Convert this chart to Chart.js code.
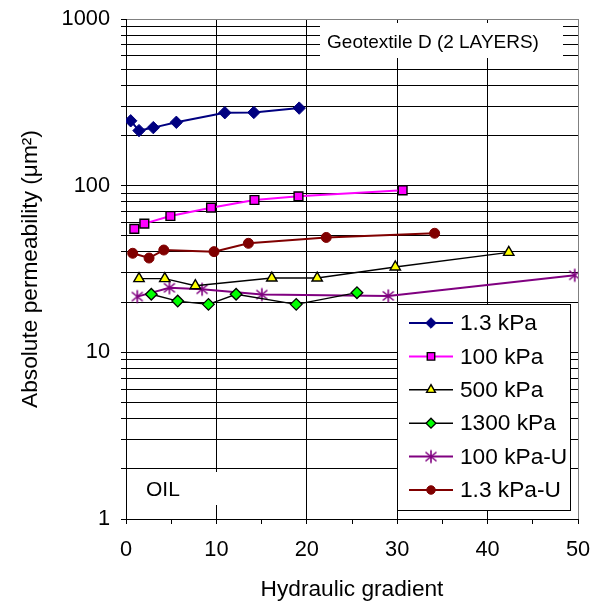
<!DOCTYPE html>
<html>
<head>
<meta charset="utf-8">
<script src="https://cdn.jsdelivr.net/npm/chart.js@4.4.0/dist/chart.umd.min.js"></script>
<style>
  html, body { margin: 0; padding: 0; background: #ffffff; }
  #wrap { width: 598px; height: 605px; }
</style>
</head>
<body>
<div id="wrap"><canvas id="chart" width="598" height="605"></canvas></div>
<script>
// Series names (legend order)
const seriesNames = ['1.3 kPa', '100 kPa', '500 kPa', '1300 kPa', '100 kPa-U', '1.3 kPa-U'];

// Hydraulic gradient (x) and absolute permeability in µm² (y) for each series
const gradient1_3 = [0.52, 1.44, 3.02, 5.57, 10.93, 14.14, 19.16];
const perm1_3     = [245, 214, 223, 240, 274, 275, 292];

const gradient100 = [0.92, 2.03, 4.91, 9.41, 14.21, 19.08, 30.6];
const perm100     = [55, 59.2, 65.8, 73.8, 82, 86.3, 93.8];

const gradient500 = [1.44, 4.29, 7.67, 16.13, 21.15, 29.79, 42.34];
const perm500     = [27.7, 27.7, 25.1, 27.9, 27.9, 32.5, 39.8];

const gradient1300 = [2.80, 5.72, 9.12, 12.18, 18.83, 25.55];
const perm1300     = [22.3, 20.3, 19.4, 22.3, 19.4, 22.8];

const gradient100U = [1.25, 4.80, 8.42, 15.03, 29.01, 49.64];
const perm100U     = [21.6, 24.4, 23.9, 22.2, 21.8, 29.0];

const gradient1_3U = [0.74, 2.55, 4.18, 9.74, 13.54, 22.15, 34.14];
const perm1_3U     = [39.3, 36.8, 41.1, 40.2, 45.1, 48.9, 51.8];

// Axis tick labels
const yTickLabels = [1, 10, 100, 1000];
const xTickLabels = [0, 10, 20, 30, 40, 50];

const FONT = '"Liberation Sans", Arial, Helvetica, sans-serif';

function toPoints(xs, ys) {
  return xs.map((x, i) => ({ x: x, y: ys[i] }));
}

// Asterisk marker: vertical stroke plus an X
function asteriskMarker(color) {
  const s = 16, c = document.createElement('canvas');
  c.width = s; c.height = s;
  const g = c.getContext('2d');
  const m = s / 2;
  g.strokeStyle = color;
  g.lineWidth = 1.6;
  g.beginPath();
  g.moveTo(m, m - 6.5); g.lineTo(m, m + 6.5);
  g.moveTo(m - 5.5, m - 4.5); g.lineTo(m + 5.5, m + 4.5);
  g.moveTo(m - 5.5, m + 4.5); g.lineTo(m + 5.5, m - 4.5);
  g.stroke();
  return c;
}

const datasets = [
  {
    label: seriesNames[0], data: toPoints(gradient1_3, perm1_3),
    borderColor: '#000080', borderWidth: 2,
    pointStyle: 'rectRot', pointRadius: 6.2,
    pointBackgroundColor: '#000080', pointBorderColor: '#000080', pointBorderWidth: 1
  },
  {
    label: seriesNames[1], data: toPoints(gradient100, perm100),
    borderColor: '#FF00FF', borderWidth: 2,
    pointStyle: 'rect', pointRadius: 6.2,
    pointBackgroundColor: '#FF00FF', pointBorderColor: '#000000', pointBorderWidth: 1.4
  },
  {
    label: seriesNames[2], data: toPoints(gradient500, perm500),
    borderColor: '#000000', borderWidth: 1.4,
    pointStyle: 'triangle', pointRadius: 6,
    pointBackgroundColor: '#FFFF00', pointBorderColor: '#000000', pointBorderWidth: 1.4
  },
  {
    label: seriesNames[3], data: toPoints(gradient1300, perm1300),
    borderColor: '#000000', borderWidth: 1.4,
    pointStyle: 'rectRot', pointRadius: 5.8,
    pointBackgroundColor: '#00FF00', pointBorderColor: '#000000', pointBorderWidth: 1.3
  },
  {
    label: seriesNames[4], data: toPoints(gradient100U, perm100U),
    borderColor: '#800080', borderWidth: 2,
    pointStyle: asteriskMarker('#800080'), pointRadius: 6,
    pointBackgroundColor: '#800080', pointBorderColor: '#800080', pointBorderWidth: 1.5
  },
  {
    label: seriesNames[5], data: toPoints(gradient1_3U, perm1_3U),
    borderColor: '#800000', borderWidth: 2,
    pointStyle: 'circle', pointRadius: 5,
    pointBackgroundColor: '#800000', pointBorderColor: '#800000', pointBorderWidth: 1
  }
];

// White text boxes inside the plot area
const plotNotes = {
  id: 'plotNotes',
  beforeDatasetsDraw(chart) {
    const ctx = chart.ctx;
    ctx.save();
    ctx.fillStyle = '#ffffff';
    ctx.fillRect(320, 23, 243, 35);
    ctx.fillRect(138, 472, 86, 33);
    ctx.fillStyle = '#000000';
    ctx.textBaseline = 'middle';
    ctx.textAlign = 'center';
    ctx.font = '19px ' + FONT;
    ctx.fillText('Geotextile D (2 LAYERS)', 433, 43);
    ctx.textAlign = 'left';
    ctx.font = '21px ' + FONT;
    ctx.fillText('OIL', 146, 490);
    ctx.restore();
  }
};

// Boxed legend drawn inside the plot area from the dataset styles
const boxedLegend = {
  id: 'boxedLegend',
  afterDraw(chart) {
    const ctx = chart.ctx;
    const bx = 397.5, by = 304.5, bw = 173, bh = 206;
    ctx.save();
    ctx.fillStyle = '#ffffff';
    ctx.fillRect(bx, by, bw, bh);
    ctx.strokeStyle = '#000000';
    ctx.lineWidth = 1;
    ctx.strokeRect(bx, by, bw, bh);
    ctx.font = '22.7px ' + FONT;
    ctx.textBaseline = 'middle';
    ctx.textAlign = 'left';
    chart.data.datasets.forEach((ds, i) => {
      const y = 323 + i * 33.4;
      ctx.strokeStyle = ds.borderColor;
      ctx.lineWidth = ds.borderWidth;
      ctx.beginPath();
      ctx.moveTo(409, y);
      ctx.lineTo(453, y);
      ctx.stroke();
      ctx.fillStyle = ds.pointBackgroundColor;
      ctx.strokeStyle = ds.pointBorderColor;
      ctx.lineWidth = ds.pointBorderWidth;
      Chart.helpers.drawPoint(ctx, {
        pointStyle: ds.pointStyle,
        radius: ds.pointRadius * 0.85,
        rotation: 0,
        borderWidth: ds.pointBorderWidth
      }, 431, y);
      ctx.fillStyle = '#000000';
      ctx.fillText(ds.label, 460, y + 1);
    });
    ctx.restore();
  }
};

new Chart(document.getElementById('chart'), {
  type: 'line',
  data: { datasets: datasets },
  plugins: [plotNotes, boxedLegend],
  options: {
    responsive: false,
    animation: false,
    devicePixelRatio: 1,
    layout: { padding: { top: 19, right: 20, bottom: 0, left: 0 } },
    plugins: {
      legend: { display: false },
      tooltip: { enabled: false }
    },
    elements: { line: { tension: 0, fill: false } },
    scales: {
      x: {
        type: 'linear',
        min: 0, max: 50,
        afterFit(s) {
          s.height = 86;
          s.paddingLeft = 0;
          s.paddingRight = 0;
        },
        ticks: {
          stepSize: 5,
          autoSkip: false,
          maxRotation: 0,
          padding: 13,
          color: '#000000',
          font: { family: FONT, size: 21.8 },
          callback: (v) => xTickLabels.includes(v) ? String(v) : ''
        },
        grid: {
          drawTicks: true,
          tickLength: 5,
          tickColor: '#000000',
          lineWidth: 1,
          color: (ctx) => {
            const v = ctx.tick ? ctx.tick.value : 0;
            if (v === 50) return '#808080';
            return (v % 10 === 0) ? '#000000' : 'rgba(0,0,0,0)';
          }
        },
        border: { color: '#000000', width: 1 },
        title: {
          display: true,
          text: 'Hydraulic gradient',
          color: '#000000',
          font: { family: FONT, size: 22.7 },
          padding: { top: 0, bottom: 2 }
        }
      },
      y: {
        type: 'logarithmic',
        min: 1, max: 1000,
        afterFit(s) {
          s.width = 126;
          s.paddingTop = 0;
          s.paddingBottom = 0;
        },
        afterBuildTicks(scale) {
          const vals = [];
          for (let i = 0; i < yTickLabels.length - 1; i++) {
            for (let m = 1; m < 10; m++) vals.push(yTickLabels[i] * m);
          }
          vals.push(yTickLabels[yTickLabels.length - 1]);
          scale.ticks = vals.map(v => ({ value: v }));
        },
        ticks: {
          autoSkip: false,
          padding: 11,
          color: '#000000',
          font: { family: FONT, size: 21.8 },
          callback: (v) => yTickLabels.includes(v) ? String(v) : ''
        },
        grid: {
          drawTicks: true,
          tickLength: 5,
          tickColor: '#000000',
          lineWidth: 1,
          color: (ctx) => (ctx.tick && ctx.tick.value === 1000) ? '#808080' : '#000000'
        },
        border: { color: '#000000', width: 1 },
        title: {
          display: true,
          text: 'Absolute permeability (\u03BCm\u00B2)',
          color: '#000000',
          font: { family: FONT, size: 22.7 },
          padding: { top: 17, bottom: 0 }
        }
      }
    }
  }
});
</script>
</body>
</html>
